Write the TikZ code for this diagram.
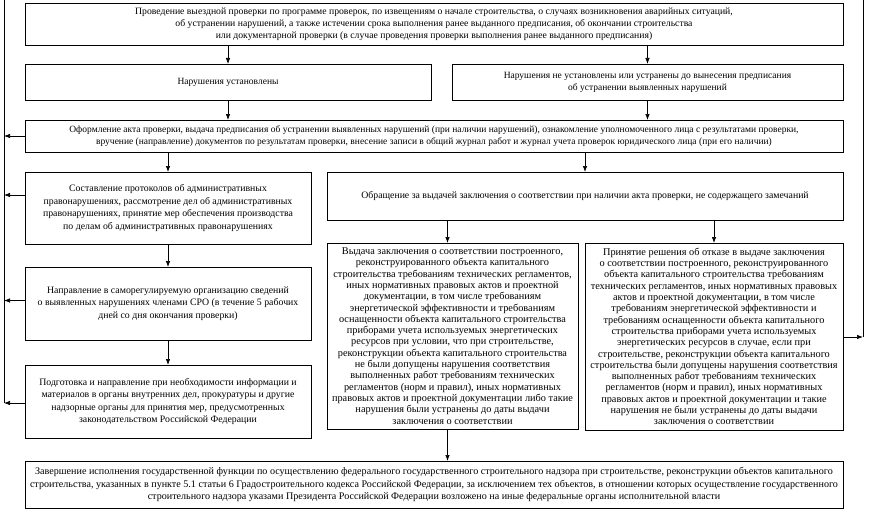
\documentclass[tikz,border=0pt]{standalone}
\usepackage{fontspec}
\setmainfont{Liberation Serif}
\usepackage{tikz}
\usetikzlibrary{arrows.meta,positioning,calc}

\begin{document}
\begin{tikzpicture}[
    x=1pt, y=-1pt,
    box/.style={draw, line width=0.7pt, anchor=north west, inner sep=0pt, outer sep=0pt, align=center},
    head/.style={font=\fontsize{9.7}{12}\selectfont},
    small/.style={font=\fontsize{9.5}{12}\selectfont},
    mid/.style={font=\fontsize{9.8}{12.5}\selectfont},
    dense/.style={font=\fontsize{10.3}{11.3}\selectfont},
    wide/.style={font=\fontsize{10.1}{12.5}\selectfont},
    link/.style={-{Latex[length=6pt,width=4.5pt]}, line width=0.7pt},
    bus/.style={line width=0.7pt},
]
\useasboundingbox (0,0) rectangle (869,511);

  % Проверка
  \node[box, head, minimum width=818pt, minimum height=42pt] (check) at (25,3)
    {Проведение выездной проверки по программе проверок, по извещениям о начале строительства, о случаях возникновения аварийных ситуаций,\\
     об устранении нарушений, а также истечении срока выполнения ранее выданного предписания, об окончании строительства\\
     или документарной проверки (в случае проведения проверки выполнения ранее выданного предписания)};
  \node[box, small, minimum width=406pt, minimum height=36pt] (viol) at (25,64)
    {Нарушения установлены};
  \node[box, small, minimum width=391pt, minimum height=36pt] (noviol) at (452,64)
    {Нарушения не установлены или устранены до вынесения предписания\\
     об устранении выявленных нарушений};
  \node[box, small, minimum width=818pt, minimum height=32pt] (act) at (25,120)
    {Оформление акта проверки, выдача предписания об устранении выявленных нарушений (при наличии нарушений), ознакомление уполномоченного лица с результатами проверки,\\
     вручение (направление) документов по результатам проверки, внесение записи в общий журнал работ и журнал учета проверок юридического лица (при его наличии)};

  % Левая ветвь
  \node[box, mid, minimum width=286pt, minimum height=72pt] (prot) at (25,172)
    {Составление протоколов об административных\\
     правонарушениях, рассмотрение дел об административных\\
     правонарушениях, принятие мер обеспечения производства\\
     по делам об административных правонарушениях};
  \node[box, mid, minimum width=286pt, minimum height=73pt] (sro) at (25,267)
    {Направление в саморегулируемую организацию сведений\\
     о выявленных нарушениях членами СРО (в течение 5 рабочих\\
     дней со дня окончания проверки)};
  \node[box, mid, minimum width=286pt, minimum height=73pt] (prep) at (25,365)
    {Подготовка и направление при необходимости информации и\\
     материалов в органы внутренних дел, прокуратуры и другие\\
     надзорные органы для принятия мер, предусмотренных\\
     законодательством Российской Федерации};

  % Правая ветвь
  \node[box, mid, minimum width=516pt, minimum height=48pt] (req) at (327,172)
    {Обращение за выдачей заключения о соответствии при наличии акта проверки, не содержащего замечаний};
  \node[box, dense, minimum width=251pt, minimum height=186pt] (concl) at (327,243)
    {Выдача заключения о соответствии построенного,\\
     реконструированного объекта капитального\\
     строительства требованиям технических регламентов,\\
     иных нормативных правовых актов и проектной\\
     документации, в том числе требованиям\\
     энергетической эффективности и требованиям\\
     оснащенности объекта капитального строительства\\
     приборами учета используемых энергетических\\
     ресурсов при условии, что при строительстве,\\
     реконструкции объекта капитального строительства\\
     не были допущены нарушения соответствия\\
     выполненных работ требованиям технических\\
     регламентов (норм и правил), иных нормативных\\
     правовых актов и проектной документации либо такие\\
     нарушения были устранены до даты выдачи\\
     заключения о соответствии};
  \node[box, dense, minimum width=258pt, minimum height=187pt] (refuse) at (585,243)
    {Принятие решения об отказе в выдаче заключения\\
     о соответствии построенного, реконструированного\\
     объекта капитального строительства требованиям\\
     технических регламентов, иных нормативных правовых\\
     актов и проектной документации, в том числе\\
     требованиям энергетической эффективности и\\
     требованиям оснащенности объекта капитального\\
     строительства приборами учета используемых\\
     энергетических ресурсов в случае, если при\\
     строительстве, реконструкции объекта капитального\\
     строительства были допущены нарушения соответствия\\
     выполненных работ требованиям технических\\
     регламентов (норм и правил), иных нормативных\\
     правовых актов и проектной документации и такие\\
     нарушения не были устранены до даты выдачи\\
     заключения о соответствии};

  % Завершение
  \node[box, wide, minimum width=818pt, minimum height=47pt] (final) at (25,461)
    {Завершение исполнения государственной функции по осуществлению федерального государственного строительного надзора при строительстве, реконструкции объектов капитального\\
     строительства, указанных в пункте 5.1 статьи 6 Градостроительного кодекса Российской Федерации, за исключением тех объектов, в отношении которых осуществление государственного\\
     строительного надзора указами Президента Российской Федерации возложено на иные федеральные органы исполнительной власти};

  % Шины
  \coordinate (ltop) at (4,0);
  \coordinate (lend) at (4,403);
  \coordinate (rtop) at (863,0);
  \coordinate (rend) at (863,337);
  \draw[bus] (ltop) -- (lend);
  \draw[bus] (rtop) -- (rend);

  % Связи
  \draw[link] (viol.north |- check.south) -- (viol.north);
  \draw[link] (noviol.north |- check.south) -- (noviol.north);
  \draw[link] (viol.south) -- (viol.south |- act.north);
  \draw[link] (noviol.south) -- (noviol.south |- act.north);
  \draw[link] (prot.north |- act.south) -- (prot.north);
  \draw[link] (req.north |- act.south) -- (req.north);
  \draw[link] (prot.south) -- (sro.north);
  \draw[link] (sro.south) -- (prep.north);
  \draw[link] ([xshift=-5pt]concl.north |- req.south) -- ([xshift=-5pt]concl.north);
  \draw[link] (refuse.north |- req.south) -- (refuse.north);
  \draw[link] ([xshift=-5pt]concl.south) -- ([xshift=-5pt]concl.south |- final.north);
  \draw[link] (act.west) -- (act.west -| ltop);
  \draw[link] ([yshift=13pt]prot.west) -- ([yshift=13pt]prot.west -| ltop);
  \draw[link] ([yshift=3pt]sro.west) -- ([yshift=3pt]sro.west -| ltop);
  \draw[link] (prep.west |- lend) -- (lend);
  \draw[link] (refuse.east |- rend) -- (rend);
\end{tikzpicture}
\end{document}
